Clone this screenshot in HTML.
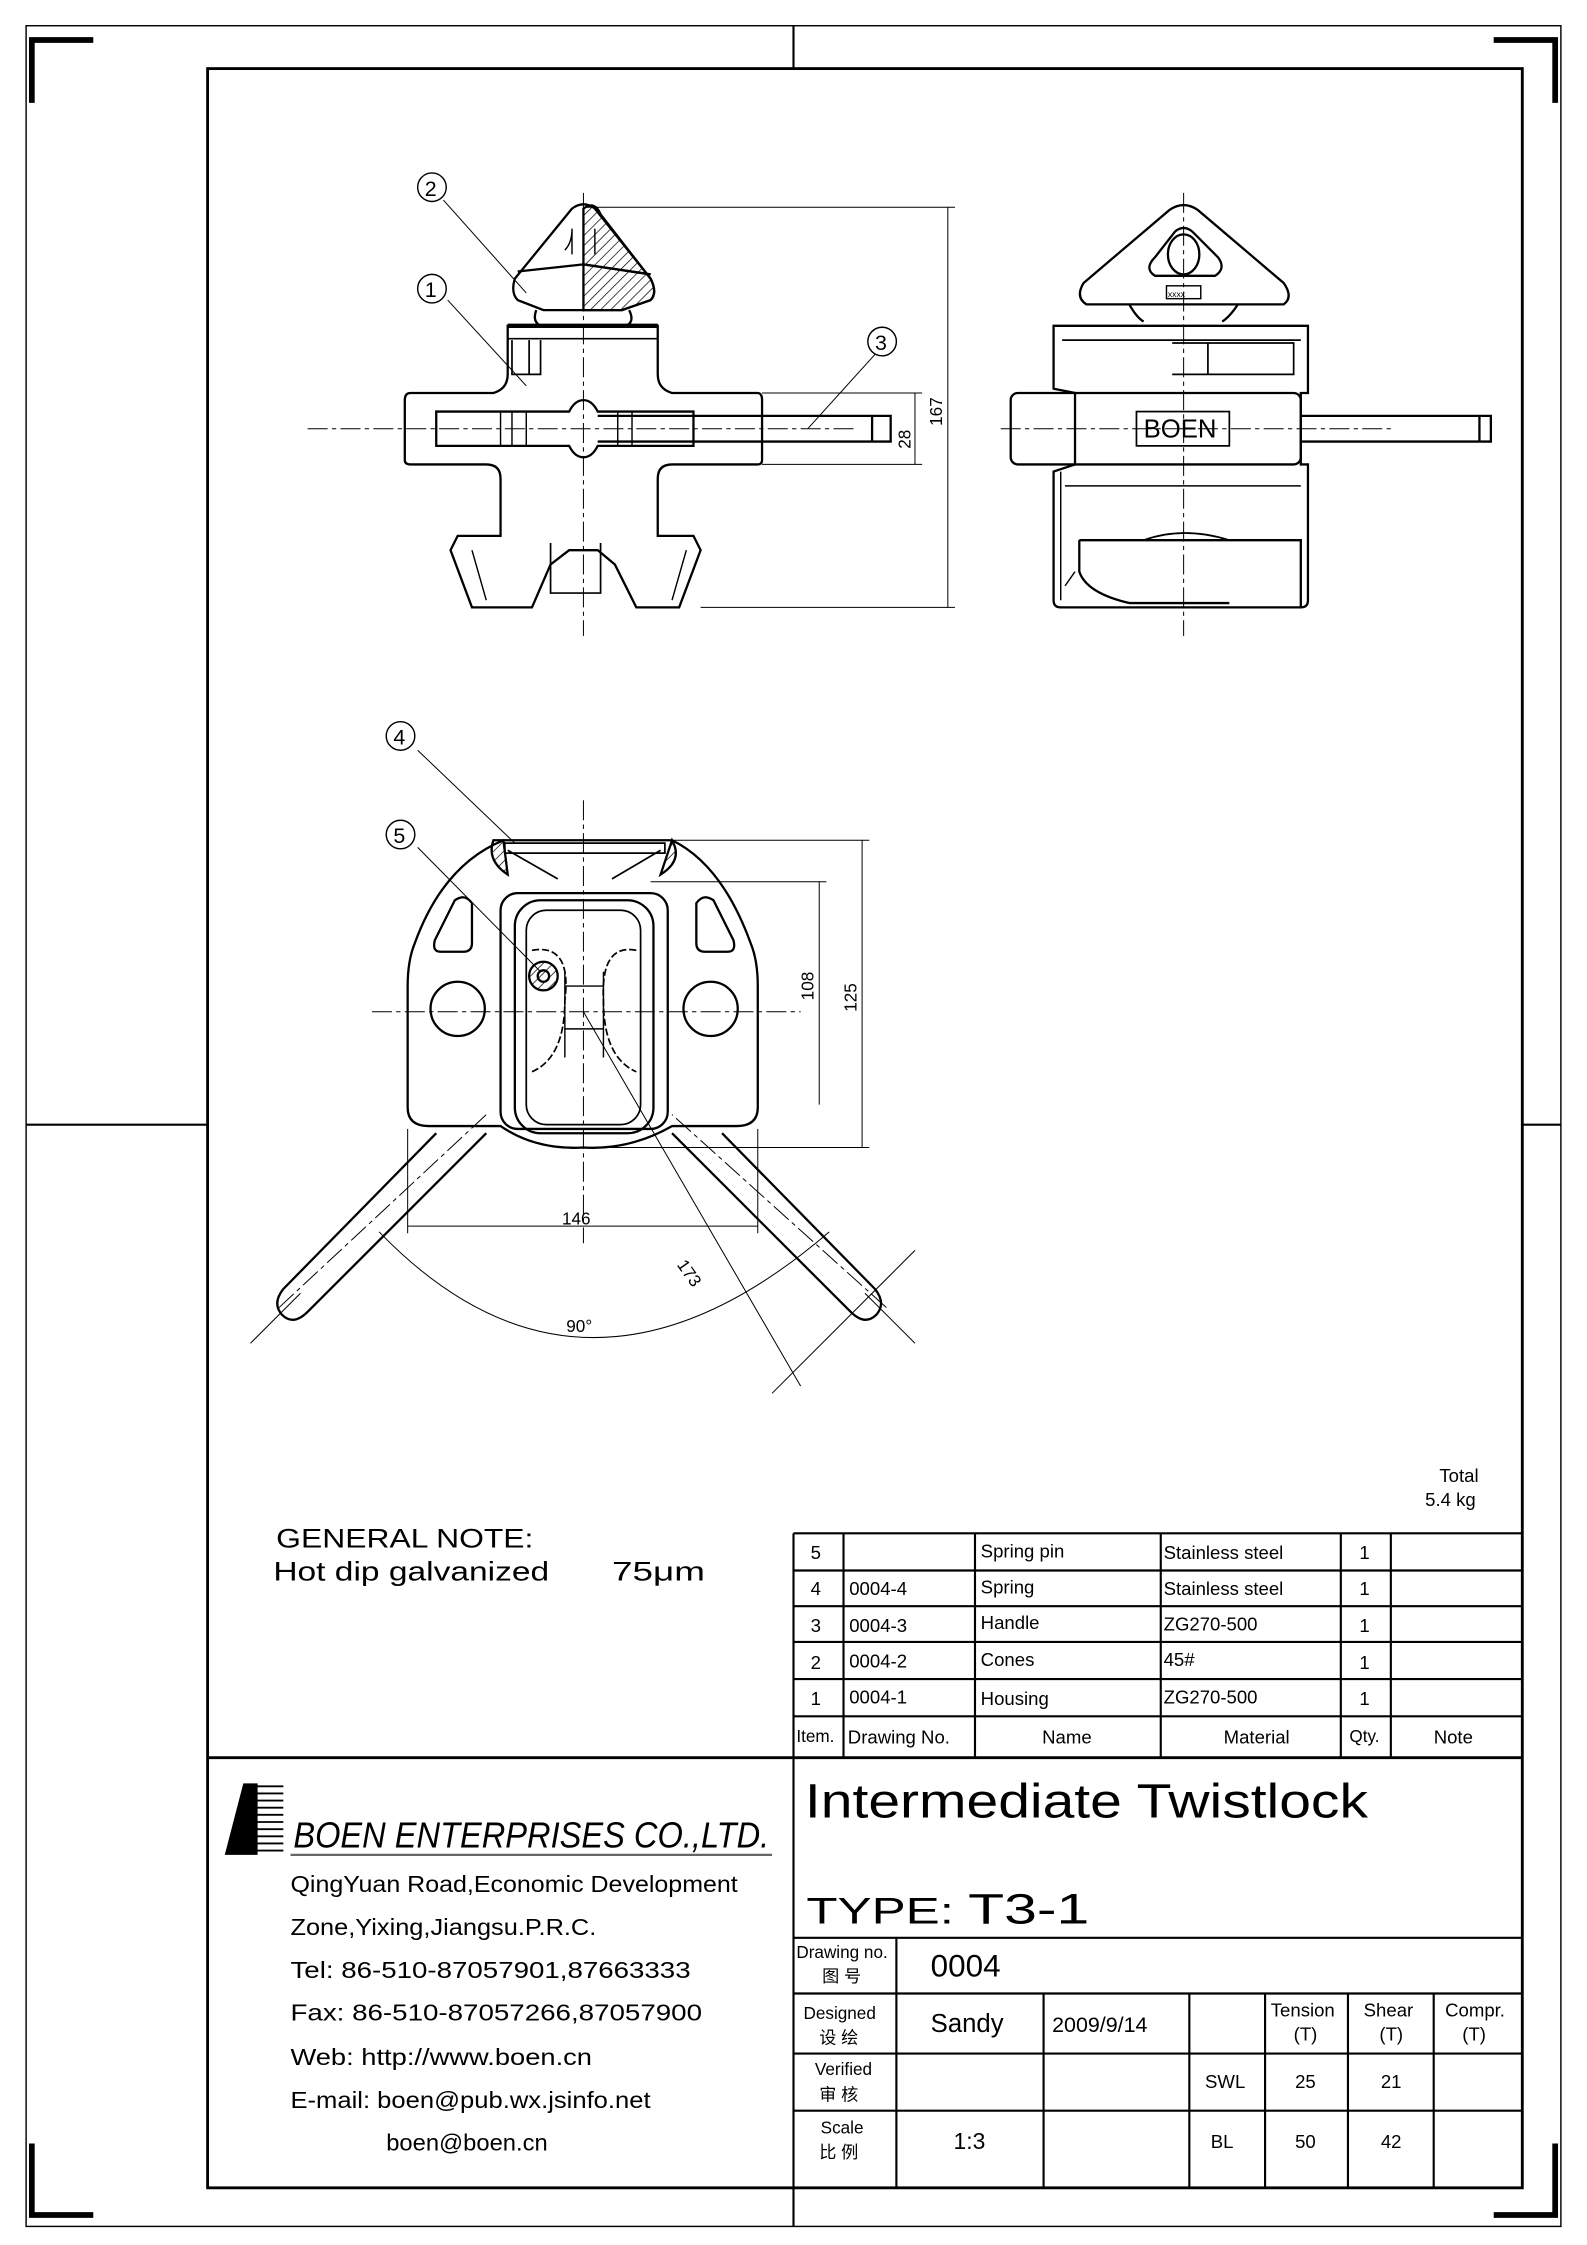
<!DOCTYPE html>
<html><head><meta charset="utf-8"><style>
html,body{margin:0;padding:0;background:#fff}
svg{display:block}
text{font-family:"Liberation Sans","Noto Sans CJK SC",sans-serif;fill:#000}
</style></head><body>
<svg width="1587" height="2245" viewBox="0 0 1110 1571" xmlns="http://www.w3.org/2000/svg">
<defs>
<pattern id="h" width="5" height="5" patternUnits="userSpaceOnUse" patternTransform="rotate(45)"><line x1="0" y1="0" x2="0" y2="5" stroke="#000" stroke-width="1"/></pattern>
</defs>
<rect width="1110" height="1571" fill="#fff"/>
<g fill="none" stroke="#000">
<rect x="18" y="18" width="1074" height="1540" stroke-width="1"/>
<path d="M22 72V28H65M1045 28H1088V72M22 1500V1550H65M1045 1550H1088V1500" stroke-width="4"/>
<line x1="555" y1="18" x2="555" y2="48" stroke-width="1.5"/>
<line x1="555" y1="1531" x2="555" y2="1558" stroke-width="1.5"/>
<line x1="18" y1="787" x2="145" y2="787" stroke-width="1.5"/>
<line x1="1065" y1="787" x2="1092" y2="787" stroke-width="1.5"/>
<rect x="145" y="48" width="920" height="1483" stroke-width="2"/>

<g stroke-width="1.5">
<line x1="555" y1="1073" x2="1065" y2="1073"/>
<line x1="555" y1="1099" x2="1065" y2="1099"/>
<line x1="555" y1="1124" x2="1065" y2="1124"/>
<line x1="555" y1="1149" x2="1065" y2="1149"/>
<line x1="555" y1="1175" x2="1065" y2="1175"/>
<line x1="555" y1="1201" x2="1065" y2="1201"/>
<line x1="145" y1="1230" x2="1065" y2="1230" stroke-width="2"/>
<line x1="555" y1="1073" x2="555" y2="1531"/>
<line x1="590" y1="1073" x2="590" y2="1230"/>
<line x1="682" y1="1073" x2="682" y2="1230"/>
<line x1="812" y1="1073" x2="812" y2="1230"/>
<line x1="938" y1="1073" x2="938" y2="1230"/>
<line x1="973" y1="1073" x2="973" y2="1230"/>
<line x1="555" y1="1356" x2="1065" y2="1356"/>
<line x1="555" y1="1395" x2="1065" y2="1395"/>
<line x1="555" y1="1437" x2="1065" y2="1437"/>
<line x1="555" y1="1477" x2="1065" y2="1477"/>
<line x1="627" y1="1356" x2="627" y2="1531"/>
<line x1="730" y1="1395" x2="730" y2="1531"/>
<line x1="832" y1="1395" x2="832" y2="1531"/>
<line x1="885" y1="1395" x2="885" y2="1531"/>
<line x1="943" y1="1395" x2="943" y2="1531"/>
<line x1="1003" y1="1395" x2="1003" y2="1531"/>
</g>

<g stroke-width="1.6">
<path d="M400 146Q408 140 416 146L455 195Q460 205 455 210L435 217H380L362 210Q357 205 360 195Z"/>
<path d="M362 190L408 185L455 192" />
<path d="M408 146Q416 140 420 150L455 195Q460 205 455 210L435 217H408Z" fill="url(#h)"/>
<path d="M408 185L455 192" />
<path d="M395 175Q400 170 400 160V178M416 160V178" stroke-width="1"/>
<path d="M375 217Q372 225 378 228M440 217Q444 225 438 228"/>
<path d="M355 228H460V262Q460 272 470 275H530Q533 275 533 280V322Q533 325 530 325H470Q460 325 460 335V375H485L490 385L475 425H445L430 395L418 385H398L385 395L372 425H330L315 385L320 375H350V335Q350 325 340 325H287Q283 325 283 322V280Q283 275 287 275H345Q355 272 355 262Z"/>
<line x1="355" y1="228" x2="460" y2="228" stroke-width="3"/>
<path d="M355 237H460M358 238V262H378V238M370 238V262" stroke-width="1.2"/>
<path d="M305 288H398Q402 280 408 280Q414 280 418 288H485V312H418Q414 320 408 320Q402 320 398 312H305Z"/>
<path d="M350 288V312M358 288V312M368 288V312M432 288V312M442 288V312" stroke-width="1"/>
<path d="M418 291H623V309H418M610 291V309"/>
<path d="M385 380V415H420V380" stroke-width="1.2"/>
<path d="M330 385L340 420M480 385L470 420" stroke-width="1"/>
</g>
<g stroke-width="0.7" stroke-dasharray="14 3 3 3">
<line x1="408" y1="135" x2="408" y2="445"/>
<line x1="215" y1="300" x2="600" y2="300"/>
<line x1="828" y1="135" x2="828" y2="445"/>
<line x1="700" y1="300" x2="975" y2="300"/>
<line x1="408" y1="560" x2="408" y2="870"/>
<line x1="260" y1="708" x2="560" y2="708"/>
<line x1="195" y1="915" x2="340" y2="780"/>
<line x1="620" y1="915" x2="470" y2="780"/>
</g>
<g stroke-width="0.7">
<line x1="410" y1="145" x2="668" y2="145"/>
<line x1="490" y1="425" x2="668" y2="425"/>
<line x1="663" y1="145" x2="663" y2="425"/>
<line x1="533" y1="275" x2="645" y2="275"/>
<line x1="533" y1="325" x2="645" y2="325"/>
<line x1="640" y1="275" x2="640" y2="325"/>
<line x1="310" y1="140" x2="368" y2="205"/>
<line x1="313" y1="210" x2="368" y2="270"/>
<line x1="612" y1="248" x2="565" y2="300"/>
<line x1="292" y1="525" x2="360" y2="590"/>
<line x1="292" y1="593" x2="378" y2="680"/>
</g>
<g stroke-width="1">
<circle cx="302" cy="131" r="10"/>
<circle cx="302" cy="202" r="10"/>
<circle cx="617" cy="239" r="10"/>
<circle cx="280" cy="515" r="10"/>
<circle cx="280" cy="584" r="10"/>
</g>

<g stroke-width="1.6">
<path d="M818 147Q828 140 838 147L898 198Q905 208 898 213H760Q752 208 758 198Z"/>
<path d="M808 193Q800 188 808 180L822 162Q828 157 834 162L852 180Q858 188 850 193Z"/>
<ellipse cx="828" cy="178" rx="11" ry="14"/>
<rect x="816" y="200" width="24" height="9" stroke-width="1"/>
<path d="M790 213Q795 222 800 225M866 213Q860 222 855 225"/>
<path d="M737 228H915V275H910V325H915V420Q915 425 910 425H742Q737 425 737 420V330L752 325V275L737 272Z"/>
<path d="M743 238H910M820 240H905V262H820M845 240V262" stroke-width="1.2"/>
<rect x="707" y="275" width="203" height="50" rx="5"/>
<rect x="795" y="288" width="65" height="24" stroke-width="1.2"/>
<path d="M910 291H1043V309H910M1035 291V309"/>
<path d="M755 378H910V425M755 378V400Q760 415 790 422H860" />
<path d="M800 378Q828 368 860 378" stroke-width="1.2"/>
<path d="M742 330V420M745 340H910M745 410L752 400" stroke-width="1"/>
</g>

<g stroke-width="1.6">
<path d="M352 588H470Q505 605 525 660Q530 672 530 690V775Q530 788 515 788H470Q440 805 408 803Q375 805 350 788H300Q285 788 285 775V690Q285 672 290 660Q310 605 352 588Z"/>
<rect x="350" y="625" width="117" height="165" rx="12"/>
<rect x="360" y="630" width="97" height="163" rx="18"/>
<rect x="368" y="637" width="80" height="150" rx="14" stroke-width="1.2"/>
<path d="M355 595L390 615M462 595L428 615M353 590H465V597H353Z" stroke-width="1.2"/>
<path d="M345 588Q340 602 355 612L352 588ZM470 588Q478 602 462 612Z" fill="url(#h)"/>
<circle cx="320" cy="706" r="19"/>
<circle cx="497" cy="706" r="19"/>
<path d="M318 630Q325 625 330 632V660Q330 666 324 666H308Q302 666 304 658Z"/>
<path d="M499 630Q492 625 487 632V660Q487 666 493 666H509Q515 666 513 658Z"/>
<path d="M395 680V740M422 680V740M395 690H422M395 720H422" stroke-width="1"/>
<path d="M372 665Q400 660 395 700Q395 740 372 750M445 665Q420 660 422 700Q422 740 445 750" stroke-width="1.2" stroke-dasharray="5 2"/>
<circle cx="380" cy="683" r="10" fill="url(#h)"/>
<circle cx="380" cy="683" r="4"/>
<path d="M340 793L215 918Q205 928 197 920Q190 912 198 902L305 793"/>
<path d="M470 793L595 918Q605 928 613 920Q620 912 612 902L505 793"/>
</g>
<g stroke-width="0.7">
<line x1="470" y1="588" x2="608" y2="588"/>
<line x1="408" y1="803" x2="608" y2="803"/>
<line x1="603" y1="588" x2="603" y2="803"/>
<line x1="455" y1="617" x2="578" y2="617"/>
<line x1="573" y1="617" x2="573" y2="773"/>
<line x1="285" y1="790" x2="285" y2="863"/>
<line x1="530" y1="790" x2="530" y2="863"/>
<line x1="285" y1="858" x2="530" y2="858"/>
<line x1="408" y1="708" x2="560" y2="970"/>
<line x1="540" y1="975" x2="640" y2="875" />
<line x1="175" y1="940" x2="210" y2="905"/>
<line x1="605" y1="905" x2="640" y2="940"/>
<path d="M265 862Q408 1010 580 862"/>
</g>
</g>

<g font-size="13">
<text x="297" y="137" font-family="Liberation Serif" font-size="15">2</text>
<text x="297" y="208" font-family="Liberation Serif" font-size="15">1</text>
<text x="612" y="245" font-family="Liberation Serif" font-size="15">3</text>
<text x="275" y="521" font-family="Liberation Serif" font-size="15">4</text>
<text x="275" y="590" font-family="Liberation Serif" font-size="15">5</text>
<text transform="translate(659 298) rotate(-90)" font-size="12">167</text>
<text transform="translate(637 314) rotate(-90)" font-size="12">28</text>
<text transform="translate(599 708) rotate(-90)" font-size="12">125</text>
<text transform="translate(569 700) rotate(-90)" font-size="12">108</text>
<text x="393" y="857" font-size="12">146</text>
<text transform="translate(473 885) rotate(55)" font-size="12">173</text>
<text x="396" y="932" font-size="12">90°</text>
<text x="800" y="306" font-size="18">BOEN</text>
<text x="817" y="208" font-size="6">xxxx</text>
</g>
<text x="1007" y="1037" font-size="13">Total</text>
<text x="997" y="1054" font-size="13">5.4  kg</text>
<text x="193" y="1083" font-size="19" textLength="180" lengthAdjust="spacingAndGlyphs">GENERAL  NOTE:</text>
<text x="191" y="1106" font-size="19" textLength="193" lengthAdjust="spacingAndGlyphs">Hot  dip  galvanized</text>
<text x="428" y="1106" font-size="19" textLength="65" lengthAdjust="spacingAndGlyphs">75μm</text>

<g font-size="13">
<text x="567" y="1091">5</text><text x="686" y="1090">Spring  pin</text><text x="814" y="1091">Stainless steel</text><text x="951" y="1091">1</text>
<text x="567" y="1116">4</text><text x="594" y="1116">0004-4</text><text x="686" y="1115">Spring</text><text x="814" y="1116">Stainless steel</text><text x="951" y="1116">1</text>
<text x="567" y="1142">3</text><text x="594" y="1142">0004-3</text><text x="686" y="1140">Handle</text><text x="814" y="1141">ZG270-500</text><text x="951" y="1142">1</text>
<text x="567" y="1168">2</text><text x="594" y="1167">0004-2</text><text x="686" y="1166">Cones</text><text x="814" y="1166">45#</text><text x="951" y="1168">1</text>
<text x="567" y="1193">1</text><text x="594" y="1192">0004-1</text><text x="686" y="1193">Housing</text><text x="814" y="1192">ZG270-500</text><text x="951" y="1193">1</text>
<text x="557" y="1219" font-size="12">Item.</text><text x="593" y="1220">Drawing  No.</text><text x="729" y="1220">Name</text><text x="856" y="1220">Material</text><text x="944" y="1219" font-size="12">Qty.</text><text x="1003" y="1220">Note</text>
</g>

<text x="563" y="1272" font-size="34" textLength="394" lengthAdjust="spacingAndGlyphs">Intermediate  Twistlock</text>
<text x="564" y="1346" font-size="26" textLength="198" lengthAdjust="spacingAndGlyphs">TYPE:  <tspan font-size="30">T3-1</tspan></text>
<text x="557" y="1370" font-size="12">Drawing no.</text>
<text x="575" y="1387" font-size="12">图 号</text>
<text x="651" y="1383" font-size="22">0004</text>
<text x="562" y="1413" font-size="12">Designed</text>
<text x="573" y="1430" font-size="12">设 绘</text>
<text x="651" y="1422" font-size="18">Sandy</text>
<text x="736" y="1422" font-size="15">2009/9/14</text>
<text x="889" y="1411" font-size="13">Tension</text><text x="905" y="1428" font-size="13">(T)</text>
<text x="954" y="1411" font-size="13">Shear</text><text x="965" y="1428" font-size="13">(T)</text>
<text x="1011" y="1411" font-size="13">Compr.</text><text x="1023" y="1428" font-size="13">(T)</text>
<text x="570" y="1452" font-size="12">Verified</text><text x="573" y="1470" font-size="12">审 核</text>
<text x="843" y="1461" font-size="13">SWL</text><text x="906" y="1461" font-size="13">25</text><text x="966" y="1461" font-size="13">21</text>
<text x="574" y="1493" font-size="12">Scale</text><text x="573" y="1510" font-size="12">比 例</text>
<text x="667" y="1504" font-size="16">1:3</text>
<text x="847" y="1503" font-size="13">BL</text><text x="906" y="1503" font-size="13">50</text><text x="966" y="1503" font-size="13">42</text>

<polygon points="170,1248 180,1248 180,1298 157,1298" fill="#000"/>
<g stroke="#000" stroke-width="1.3">
<line x1="178" y1="1250" x2="198" y2="1250"/><line x1="178" y1="1255" x2="198" y2="1255"/><line x1="178" y1="1260" x2="198" y2="1260"/><line x1="178" y1="1265" x2="198" y2="1265"/><line x1="178" y1="1270" x2="198" y2="1270"/><line x1="178" y1="1275" x2="198" y2="1275"/><line x1="178" y1="1280" x2="198" y2="1280"/><line x1="178" y1="1285" x2="198" y2="1285"/><line x1="178" y1="1290" x2="198" y2="1290"/><line x1="178" y1="1295" x2="198" y2="1295"/>
<line x1="203" y1="1298" x2="540" y2="1298" stroke="#666" stroke-width="1.5"/>
</g>
<text x="205" y="1293" font-family="Liberation Serif" font-style="italic" font-size="25" textLength="333" lengthAdjust="spacingAndGlyphs">BOEN ENTERPRISES CO.,LTD.</text>
<g font-size="16">
<text x="203" y="1324" textLength="313" lengthAdjust="spacingAndGlyphs">QingYuan  Road,Economic  Development</text>
<text x="203" y="1354" textLength="214" lengthAdjust="spacingAndGlyphs">Zone,Yixing,Jiangsu.P.R.C.</text>
<text x="203" y="1384" textLength="280" lengthAdjust="spacingAndGlyphs">Tel:  86-510-87057901,87663333</text>
<text x="203" y="1414" textLength="288" lengthAdjust="spacingAndGlyphs">Fax:  86-510-87057266,87057900</text>
<text x="203" y="1445" textLength="211" lengthAdjust="spacingAndGlyphs">Web:  http://www.boen.cn</text>
<text x="203" y="1475" textLength="252" lengthAdjust="spacingAndGlyphs">E-mail:  boen@pub.wx.jsinfo.net</text>
<text x="270" y="1505" textLength="113" lengthAdjust="spacingAndGlyphs">boen@boen.cn</text>
</g>
</svg>
</body></html>
